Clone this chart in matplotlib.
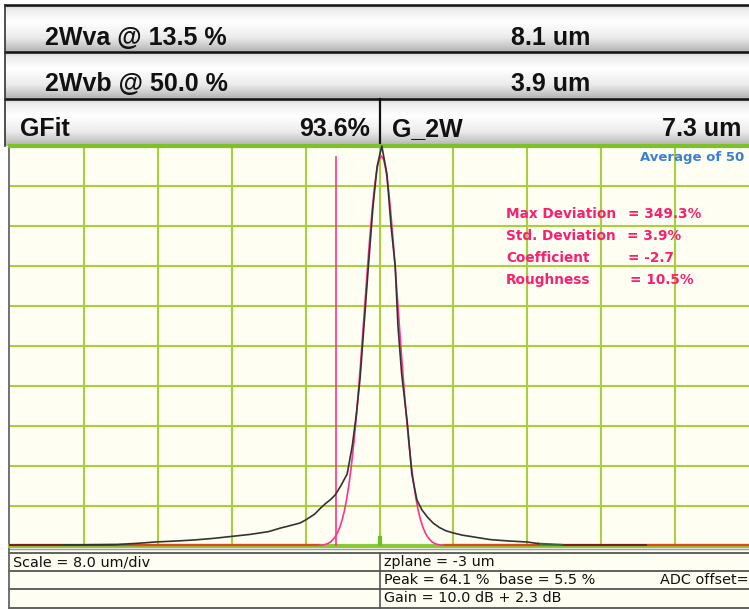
import numpy as np
import matplotlib
matplotlib.use("Agg")
import matplotlib.pyplot as plt

# ---- measurement summary ----
header_rows = [("2Wva @ 13.5 %", "8.1 um"), ("2Wvb @ 50.0 %", "3.9 um")]
gfit_label, gfit_value = "GFit", "93.6%"
g2w_label, g2w_value = "G_2W", "7.3 um"
avg_label = "Average of 50"
stat_names = ["Max Deviation", "Std. Deviation", "Coefficient", "Roughness"]
stat_values = ["= 349.3%", "= 3.9%", "= -2.7", "= 10.5%"]
footer_left = ["Scale = 8.0 um/div", "", ""]
footer_right = ["zplane = -3 um", "Peak = 64.1 %  base = 5.5 %", "Gain = 10.0 dB + 2.3 dB"]
adc_label = "ADC offset="

# ---- measured beam profile (um, %) ----
meas_x = [-34.2, -28.6, -26.0, -24.3, -22.0, -20.1, -18.0, -16.0, -14.0, -12.0, -10.7,
          -10.0, -8.6, -8.0, -7.0, -6.5, -5.9, -5.3, -4.8, -4.2,
          -3.5, -2.95, -2.5, -2.1, -1.65, -1.2, -0.7, -0.25, 0.25, 0.8, 1.25, 1.7,
          2.0, 2.4, 3.0, 3.5, 4.05, 4.6, 5.2, 5.8, 6.5, 7.2, 8.0, 9.0, 10.1, 10.9,
          12.0, 14.0, 16.0, 17.2]
meas_y = [0.25, 0.35, 0.7, 1.0, 1.25, 1.5, 1.9, 2.4, 2.9, 3.6, 4.5,
          4.9, 5.75, 6.5, 8.0, 9.2, 10.5, 11.6, 12.75, 15.0,
          18, 25, 33, 42, 56, 70, 85, 95, 100, 93, 80, 70,
          55, 43, 31, 18, 11.5, 9, 7.2, 5.75, 4.6, 3.8, 3.25, 2.7, 2.3, 2.0,
          1.6, 1.25, 1.0, 0.6]
# low-level tail segments near the noise floor
tail_green_x = [[-34.2, -28.6], [17.2, 19.8]]
tail_green_y = [[0.25, 0.3], [0.6, 0.3]]
tail_red_x = [[-40.0, -34.2], [19.8, 28.8]]
tail_red_y = [[0.15, 0.15], [0.15, 0.15]]

# ---- gaussian fit (um, %) ----
fit_x = [-40.0, -6.55, -6.3, -6.05, -5.8, -5.55, -5.3, -5.05, -4.8, -4.55, -4.3, -4.05,
         -3.8, -3.55, -3.3, -3.05, -2.8, -2.55, -2.3, -2.05, -1.8, -1.55, -1.3,
         -1.05, -0.8, -0.55, -0.3, -0.05, 0.2, 0.45, 0.7, 0.95, 1.2, 1.45, 1.7,
         1.95, 2.2, 2.45, 2.7, 2.95, 3.2, 3.45, 3.7, 3.95, 4.2, 4.45, 4.7, 4.95,
         5.2, 5.45, 5.7, 5.95, 6.2, 6.45, 6.7, 6.95, 40.0]
fit_y = [0.0, 0.0, 0.17, 0.28, 0.44, 0.68, 1.0, 1.6, 2.3, 3.3, 4.7, 6.5,
         8.8, 11.8, 15.5, 20.0, 25.3, 31.3, 38.2, 45.6, 53.5, 61.6, 69.6,
         77.1, 83.9, 89.6, 93.9, 96.6, 97.5, 96.6, 93.9, 89.6, 83.9, 77.1, 69.6,
         61.6, 53.5, 45.6, 38.2, 31.3, 25.3, 20.0, 15.5, 11.8, 8.8, 6.5, 4.7, 3.3,
         2.3, 1.6, 1.0, 0.68, 0.44, 0.28, 0.17, 0.0, 0.0]
clip_marker_x = -4.75
clip_marker_top = 97.3
center_mark_x = 0.0
center_mark_h = 2.0

W, H = 749, 609
GRID = "#a8cf3c"
CREAM = "#fefef2"
PINK = "#ff3388"
TEXT_PINK = "#f8206f"
BASE_RED = "#e2461c"
CURVE = "#333333"

fig = plt.figure(figsize=(W / 100, H / 100), dpi=100)
fig.patch.set_facecolor("white")

# background layer in pixel coordinates
bg = fig.add_axes([0, 0, 1, 1], zorder=0)
bg.set_xlim(0, W)
bg.set_ylim(H, 0)
bg.axis("off")


def banner(ax, x0, x1, y0, y1):
    t = np.linspace(0, 1, 64)
    shade = np.interp(t, [0, 0.08, 0.35, 0.7, 1.0], [0.78, 0.92, 1.0, 0.92, 0.70])
    img = np.repeat(shade[:, None], 2, axis=1)
    ax.imshow(img, cmap="gray", vmin=0, vmax=1, extent=(x0, x1, y1, y0),
              aspect="auto", interpolation="bilinear", zorder=1)


banner(bg, 5, W, 5, 52)
banner(bg, 5, W, 52, 99)
banner(bg, 5, W, 99, 146)
for yy in (5, 52, 99):
    bg.plot([5, W], [yy, yy], color="#111111", lw=1.8, zorder=3)
bg.plot([5, 5], [5, 146], color="#333333", lw=1.2, zorder=3)
bg.plot([379.5, 379.5], [99, 150], color="#111111", lw=1.6, zorder=3)

# footer table
bg.add_patch(plt.Rectangle((9, 549), W - 9, 60, facecolor=CREAM, edgecolor="none", zorder=1))
bg.plot([9, W], [549, 549], color="#9a9a9a", lw=1.0, zorder=3)
for yy in (553, 571, 589, 607.5):
    bg.plot([9, W], [yy, yy], color="#555555", lw=1.3, zorder=3)
bg.plot([9, 9], [146, 608], color="#666666", lw=1.3, zorder=3)
bg.plot([380, 380], [553, 608], color="#555555", lw=1.2, zorder=3)

# header texts
hfont = dict(family="Liberation Sans", weight="bold", fontsize=18, color="#111111")
for i, (lab, val) in enumerate(header_rows):
    yc = 38 + i * 46
    bg.text(45, yc, lab, ha="left", va="center", zorder=4, **hfont)
    bg.text(551, yc, val, ha="center", va="center", zorder=4, **hfont)
bg.text(20, 129, gfit_label, ha="left", va="center", zorder=4, **hfont)
bg.text(370, 129, gfit_value, ha="right", va="center", zorder=4, **hfont)
bg.text(392, 129, g2w_label, ha="left", va="center", zorder=4, **hfont)
bg.text(741, 129, g2w_value, ha="right", va="center", zorder=4, **hfont)

# footer texts
ffont = dict(family="DejaVu Sans", fontsize=10.4, color="#111111")
for i in range(3):
    yc = 562 + i * 18
    if footer_left[i]:
        bg.text(13, yc, footer_left[i], ha="left", va="center", zorder=4, **ffont)
    bg.text(384, yc, footer_right[i], ha="left", va="center", zorder=4, **ffont)
bg.text(660, 580, adc_label, ha="left", va="center", zorder=4, **ffont)

# ---- profile plot ----
ax = fig.add_axes([10 / W, 1 - 546 / H, (W - 10) / W, 400 / H], zorder=2)
ax.set_facecolor(CREAM)
ax.set_xlim(-40, 40)
ax.set_ylim(0, 100)
for s in ax.spines.values():
    s.set_visible(False)
ax.set_xticks([])
ax.set_yticks([])

for gx in np.arange(-32, 33, 8):
    ax.axvline(gx, color=GRID, lw=1.5, zorder=1)
for gy in np.arange(10, 100, 10):
    ax.axhline(gy, color=GRID, lw=1.5, zorder=1)
ax.plot([-40, 40], [100, 100], color="#7cc02a", lw=3.0, zorder=2, clip_on=False)
ax.plot([-40, 40], [0, 0], color="#8cc83a", lw=3.0, zorder=2, clip_on=False)
ax.plot([center_mark_x, center_mark_x], [0, center_mark_h], color="#6cc020", lw=3.0, zorder=2)

fx = np.array(fit_x)
fy = np.array(fit_y)
zero = fy <= 0
ax.plot(fx, np.where(zero, np.nan, fy), color=PINK, lw=1.2, zorder=4)
# flat part of the fit rides on the baseline
left_zero = fx[zero][fx[zero] < 0]
right_zero = fx[zero][fx[zero] > 0]
ax.plot([left_zero.min(), left_zero.max()], [0.2, 0.2], color=BASE_RED, lw=1.6, zorder=3, clip_on=False)
ax.plot([right_zero.min(), right_zero.max()], [0.2, 0.2], color=BASE_RED, lw=1.6, zorder=3, clip_on=False)
# pink lines connecting to the feet
ax.plot([fx[1], fx[2]], [0.2, fy[2]], color=PINK, lw=1.2, zorder=4)
ax.plot([fx[-3], fx[-2]], [fy[-3], 0.2], color=PINK, lw=1.2, zorder=4)

ax.plot([clip_marker_x, clip_marker_x], [0, clip_marker_top], color=PINK, lw=1.2, zorder=4)

for sx, sy in zip(tail_red_x, tail_red_y):
    ax.plot(sx, sy, color="#7a1a22", lw=1.4, zorder=5, clip_on=False)
for sx, sy in zip(tail_green_x, tail_green_y):
    ax.plot(sx, sy, color="#2f6b33", lw=1.4, zorder=5, clip_on=False)
ax.plot(meas_x, meas_y, color=CURVE, lw=1.2, zorder=5, clip_on=False)

# annotation layer in pixel coordinates
top = fig.add_axes([0, 0, 1, 1], zorder=3)
top.set_xlim(0, W)
top.set_ylim(H, 0)
top.axis("off")
top.patch.set_alpha(0)
top.text(744, 157, avg_label, ha="right", va="center", color="#3c7fd4",
         family="DejaVu Sans", weight="bold", fontsize=9.5)
sfont = dict(family="DejaVu Sans", weight="bold", fontsize=9.8, color=TEXT_PINK)
val_x = [628, 627, 628, 630]
for i, (n, v) in enumerate(zip(stat_names, stat_values)):
    yc = 214 + i * 22
    top.text(506, yc, n, ha="left", va="center", **sfont)
    top.text(val_x[i], yc, v, ha="left", va="center", **sfont)

fig.savefig("out.png", dpi=100, facecolor=fig.get_facecolor())
